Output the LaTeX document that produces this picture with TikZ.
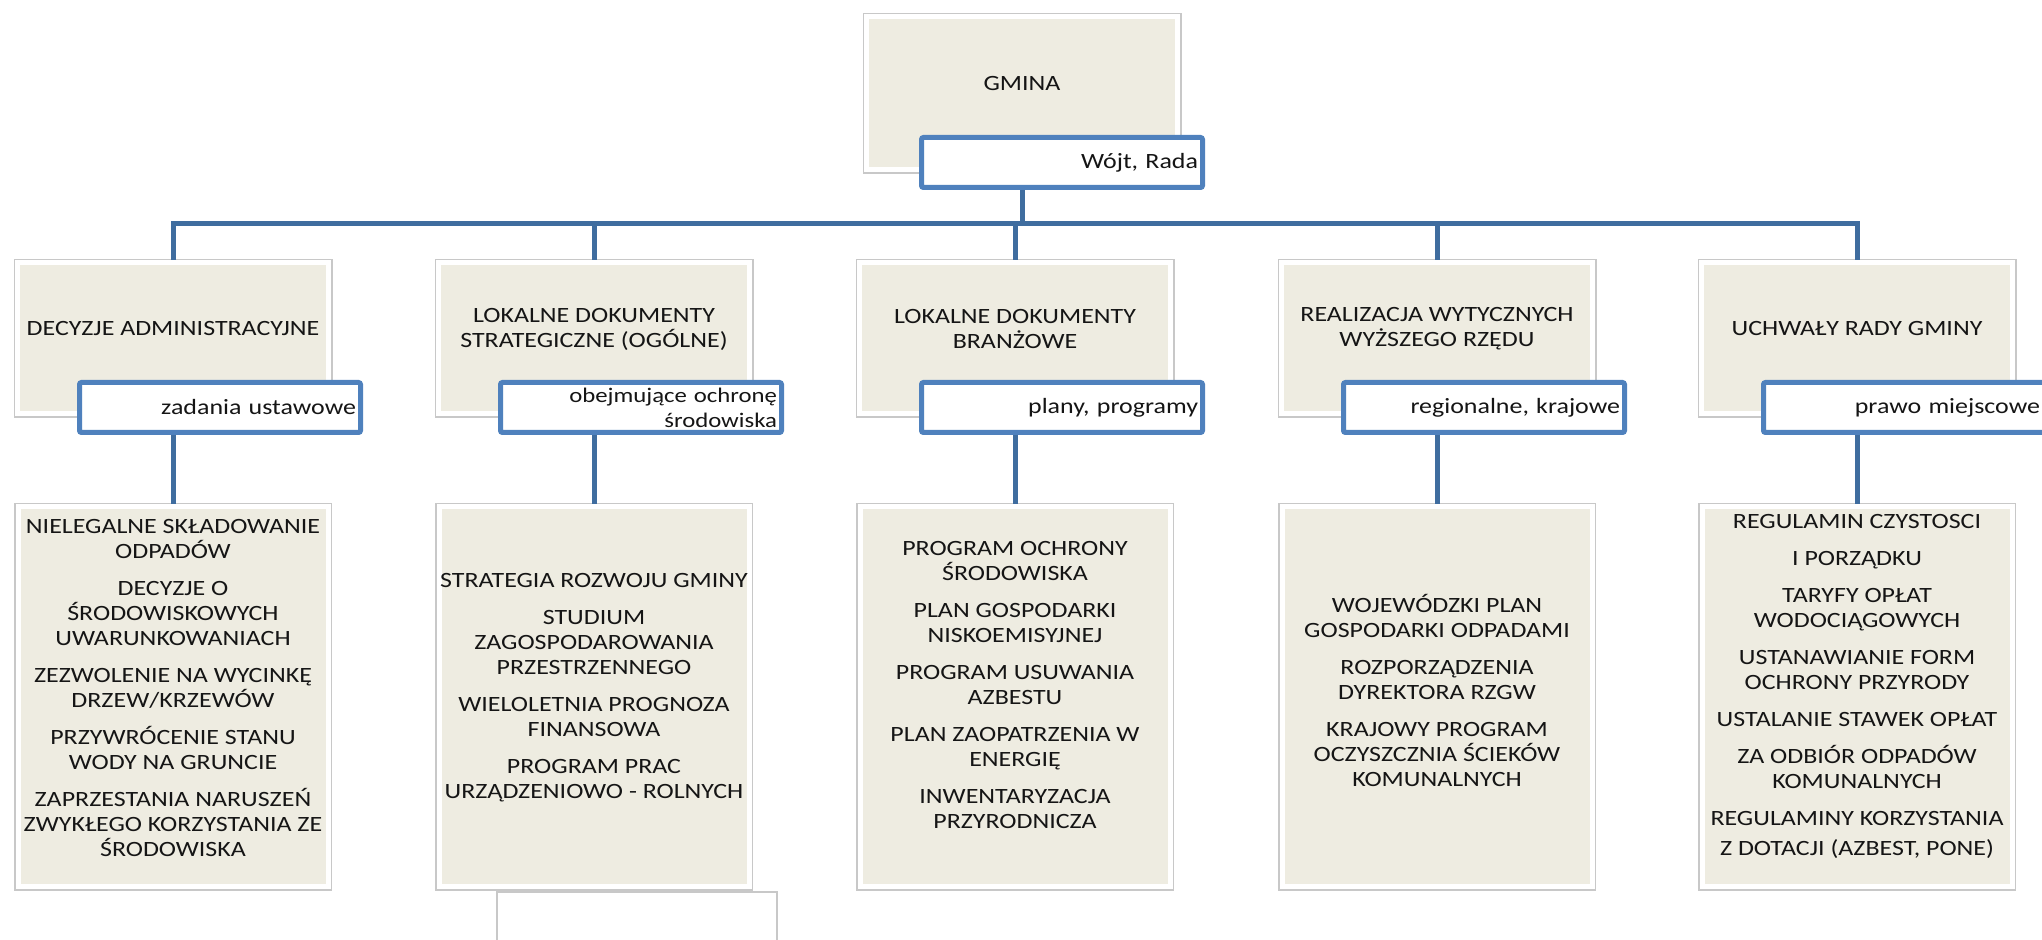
\documentclass[tikz,border=0pt]{standalone}
\usepackage{fontspec}
\setmainfont{Carlito}[FakeStretch=1.19]
\usepackage{tikz}
\usetikzlibrary{calc,positioning}
\definecolor{tan}{HTML}{EEECE1}
\definecolor{frame}{HTML}{C8C8C8}
\definecolor{accent}{HTML}{4F81BD}
\definecolor{wireblue}{HTML}{3F6D9F}
\definecolor{ink}{HTML}{151515}
\newlength\px
\setlength\px{0.5pt}
\newcommand\nextitem{\\[6pt]}
\frenchspacing
\tikzstyle{tanbox}=[fill=tan, draw=white, line width=5\px, preaction={draw=frame, line width=8\px}]
\tikzstyle{head}=[tanbox, minimum width=311\px, minimum height=151\px]
\tikzstyle{list}=[tanbox, minimum width=310\px, minimum height=380\px]
\tikzstyle{txt}=[align=center, text=ink, inner sep=0pt, font=\fontsize{10.9pt}{12.5pt}\selectfont]
\tikzstyle{tag}=[draw=accent, fill=white, line width=5\px, rounded corners=2\px, minimum width=281\px, minimum height=50\px, text width=272\px, inner xsep=4.5\px, inner ysep=0pt, align=right, text=ink, font=\fontsize{10.9pt}{12.5pt}\selectfont]
\tikzset{%
    wire/.style={draw=wireblue, line width=5\px, line join=miter},
    spare/.style={draw=frame, fill=white, line width=1.5\px, minimum width=280\px, minimum height=200\px},
  }

\begin{document}
\begin{tikzpicture}[x=\px, y=-\px]
    \path[use as bounding box] (0,0) rectangle (2042,940);
    \clip (0,0) rectangle (2042,940);
    %
    \node (gmina) [head, minimum height=153\px] at (1022,93.5) {};
    \node (gminaTx) [txt] at (1022,84) {GMINA};
    \node (wojt) [tag] at ($(gmina.south)+(40,-10)$) {Wójt, Rada};
    %
    \node (dec) [head] at (173,338.5) {};
    \node (strat) [head] at (594,338.5) {};
    \node (bran) [head] at (1015,338.5) {};
    \node (real) [head] at (1437,338.5) {};
    \node (uchw) [head] at (1857,338.5) {};
    \node (decTx) [txt] at (173,329) {DECYZJE ADMINISTRACYJNE};
    \node (stratTx) [txt] at (594,329) {LOKALNE DOKUMENTY\\STRATEGICZNE (OGÓLNE)};
    \node (branTx) [txt] at (1015,329) {LOKALNE DOKUMENTY\\BRANŻOWE};
    \node (realTx) [txt] at (1437,329) {REALIZACJA WYTYCZNYCH\\WYŻSZEGO RZĘDU};
    \node (uchwTx) [txt] at (1857,329) {UCHWAŁY RADY GMINY};
    %
    \node (dec-tag) [tag] at ($(dec.south)+(47,-9)$) {zadania ustawowe};
    \node (strat-tag) [tag, font=\fontsize{10.4pt}{12.5pt}\selectfont] at ($(strat.south)+(47,-9)$) {obejmujące ochronę\\środowiska};
    \node (bran-tag) [tag] at ($(bran.south)+(47,-9)$) {plany, programy};
    \node (real-tag) [tag] at ($(real.south)+(47,-9)$) {regionalne, krajowe};
    \node (uchw-tag) [tag] at ($(uchw.south)+(47,-9)$) {prawo miejscowe};
    %
    \node (extra) [spare] at (637,992) {};
    \node (dec-list) [list, below=44pt of dec] {};
    \node (strat-list) [list, below=44pt of strat] {};
    \node (bran-list) [list, below=44pt of bran] {};
    \node (real-list) [list, below=44pt of real] {};
    \node (uchw-list) [list, below=44pt of uchw] {};
    \node (dec-listTx) [txt] at (173,688) {NIELEGALNE SKŁADOWANIE\\ODPADÓW\nextitem DECYZJE O\\ŚRODOWISKOWYCH\\UWARUNKOWANIACH\nextitem ZEZWOLENIE NA WYCINKĘ\\DRZEW/KRZEWÓW\nextitem PRZYWRÓCENIE STANU\\WODY NA GRUNCIE\nextitem ZAPRZESTANIA NARUSZEŃ\\ZWYKŁEGO KORZYSTANIA ZE\\ŚRODOWISKA};
    \node (strat-listTx) [txt] at (594,688) {STRATEGIA ROZWOJU GMINY\nextitem STUDIUM\\ZAGOSPODAROWANIA\\PRZESTRZENNEGO\nextitem WIELOLETNIA PROGNOZA\\FINANSOWA\nextitem PROGRAM PRAC\\URZĄDZENIOWO - ROLNYCH};
    \node (bran-listTx) [txt] at (1015,685) {PROGRAM OCHRONY\\ŚRODOWISKA\nextitem PLAN GOSPODARKI\\NISKOEMISYJNEJ\nextitem PROGRAM USUWANIA\\AZBESTU\nextitem PLAN ZAOPATRZENIA W\\ENERGIĘ\nextitem INWENTARYZACJA\\PRZYRODNICZA};
    \node (real-listTx) [txt] at (1437,690) {WOJEWÓDZKI PLAN\\GOSPODARKI ODPADAMI\nextitem ROZPORZĄDZENIA\\DYREKTORA RZGW\nextitem KRAJOWY PROGRAM\\OCZYSZCZNIA ŚCIEKÓW\\KOMUNALNYCH};
    \node (uchw-listTx) [txt] at (1857,686) {REGULAMIN CZYSTOSCI\nextitem I PORZĄDKU\nextitem TARYFY OPŁAT\\WODOCIĄGOWYCH\nextitem USTANAWIANIE FORM\\OCHRONY PRZYRODY\nextitem USTALANIE STAWEK OPŁAT\nextitem ZA ODBIÓR ODPADÓW\\KOMUNALNYCH\nextitem REGULAMINY KORZYSTANIA\\[2.5pt]Z DOTACJI (AZBEST, PONE)};
    %
    \coordinate (hub) at (1022,224);
    \draw [wire] (wojt.south -| gmina) -- (hub);
    \foreach \n in {dec,strat,bran,real,uchw} {
      \draw [wire] (hub) -| (\n.north);
      \draw [wire] (\n-tag.south -| \n) -- (\n-list.north);
    }
  \end{tikzpicture}
\end{document}
